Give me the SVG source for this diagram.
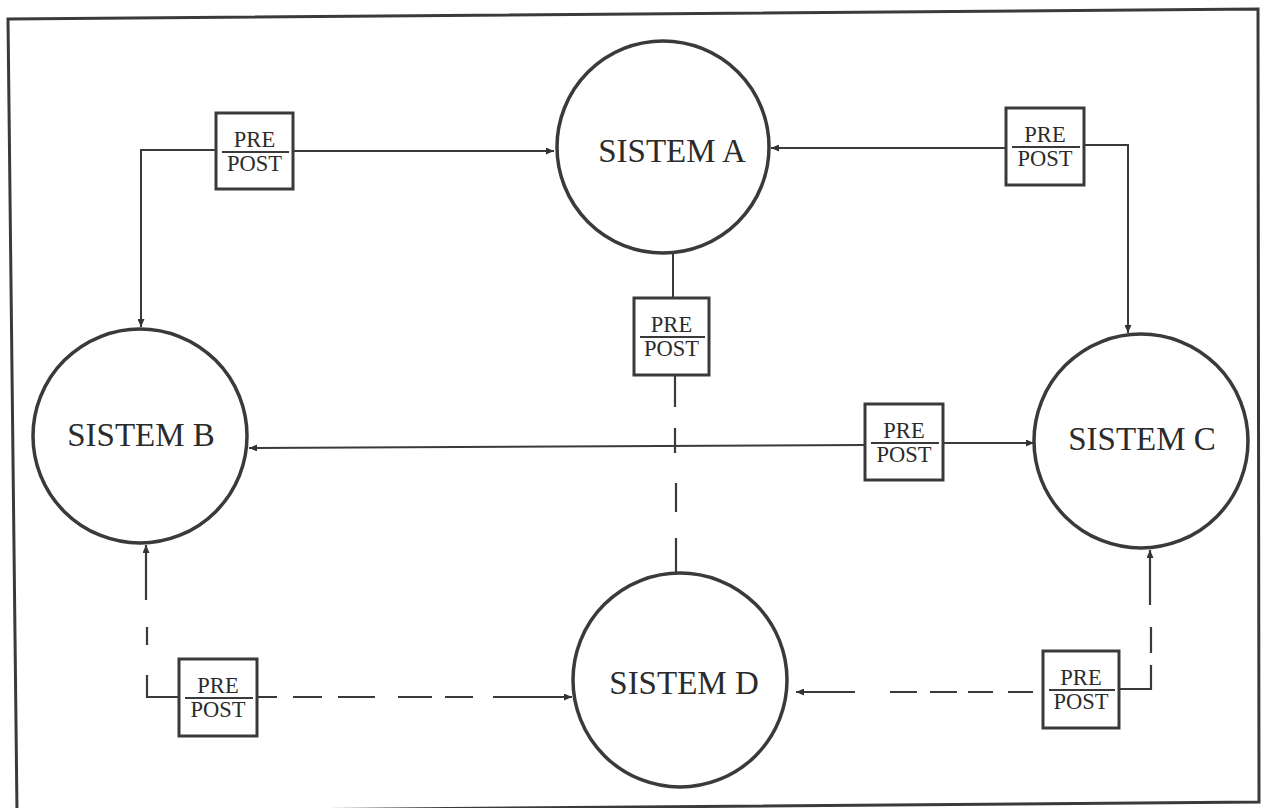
<svg xmlns="http://www.w3.org/2000/svg" width="1266" height="808" viewBox="0 0 1266 808">
  <defs>
    <marker id="arr" markerUnits="userSpaceOnUse" markerWidth="9" markerHeight="7" refX="8" refY="3.5" orient="auto">
      <path d="M0,0 L8,3.5 L0,7 z" fill="#333"/>
    </marker>
    <style>
      .frame { fill: none; stroke: #3a3a3a; stroke-width: 3; }
      .sys { fill: #fff; stroke: #3a3a3a; stroke-width: 3.5; }
      .sys-t { font-family: "Liberation Serif", "Times New Roman", serif; font-size: 33px; fill: #2b2b2b; text-anchor: middle; }
      .box { fill: #fff; stroke: #3a3a3a; stroke-width: 3; }
      .box-t { font-family: "Liberation Serif", "Times New Roman", serif; font-size: 22.5px; fill: #2b2b2b; text-anchor: middle; }
      .div { stroke: #3a3a3a; stroke-width: 2; }
      .con { fill: none; stroke: #3a3a3a; stroke-width: 2; }
      .dash { fill: none; stroke: #3a3a3a; stroke-width: 2.2; }
    </style>
  </defs>
  <rect width="1266" height="808" fill="#fff"/>
  <polygon class="frame" points="8,19 1258,9 1259,802 17,812"/>

  <g id="connectors">
    <path class="con" d="M216,150 L141,150 L141,327" marker-end="url(#arr)"/>
    <path class="con" d="M293,151 L554,151" marker-end="url(#arr)"/>
    <path class="con" d="M1006,148 L771,148" marker-end="url(#arr)"/>
    <path class="con" d="M1084,145 L1128,145 L1128,333" marker-end="url(#arr)"/>
    <path class="con" d="M673,253 L673,298"/>
    <path class="dash" d="M675,375 L675,407 M675,428 L675,453 M676,483 L676,512 M676,538 L676,573"/>
    <path class="con" d="M865,445 L249,448" marker-end="url(#arr)"/>
    <path class="con" d="M943,443 L1034,443" marker-end="url(#arr)"/>
    <path class="dash" d="M179,697 L147,697 L147,675 M147,645 L147,627 M146,600 L146,545" marker-end="url(#arr)"/>
    <path class="dash" d="M257,697 L277,697 M293,697 L322,697 M338,697 L375,697 M398,697 L432,697 M445,697 L473,697 M493,697 L572,697" marker-end="url(#arr)"/>
    <path class="dash" d="M1119,689 L1151,689 L1151,665 M1151,653 L1151,627 M1150,605 L1150,550" marker-end="url(#arr)"/>
    <path class="dash" d="M1033,692 L1008,692 M993,692 L968,692 M957,692 L930,692 M917,692 L890,692 M855,692 L796,692" marker-end="url(#arr)"/>
  </g>

  <g id="sistem-a">
    <circle class="sys" cx="663" cy="147" r="106"/>
    <text class="sys-t" x="672" y="162">SISTEM A</text>
  </g>
  <g id="sistem-b">
    <circle class="sys" cx="140" cy="436" r="107"/>
    <text class="sys-t" x="141" y="446">SISTEM B</text>
  </g>
  <g id="sistem-c">
    <circle class="sys" cx="1141" cy="441" r="107"/>
    <text class="sys-t" x="1142" y="450">SISTEM C</text>
  </g>
  <g id="sistem-d">
    <circle class="sys" cx="680" cy="680" r="107"/>
    <text class="sys-t" x="684" y="694">SISTEM D</text>
  </g>

  <g id="box-ba">
    <rect class="box" x="216" y="113" width="77" height="76"/>
    <text class="box-t" x="254.5" y="147">PRE</text>
    <line class="div" x1="222" y1="152" x2="289" y2="152"/>
    <text class="box-t" x="254.5" y="171">POST</text>
  </g>
  <g id="box-ac">
    <rect class="box" x="1006" y="108" width="78" height="77"/>
    <text class="box-t" x="1045" y="142">PRE</text>
    <line class="div" x1="1012" y1="147" x2="1080" y2="147"/>
    <text class="box-t" x="1045" y="166">POST</text>
  </g>
  <g id="box-ad">
    <rect class="box" x="634" y="298" width="75" height="77"/>
    <text class="box-t" x="671.5" y="332">PRE</text>
    <line class="div" x1="640" y1="337" x2="705" y2="337"/>
    <text class="box-t" x="671.5" y="356">POST</text>
  </g>
  <g id="box-bc">
    <rect class="box" x="865" y="404" width="78" height="76"/>
    <text class="box-t" x="904" y="438">PRE</text>
    <line class="div" x1="871" y1="443" x2="939" y2="443"/>
    <text class="box-t" x="904" y="462">POST</text>
  </g>
  <g id="box-bd">
    <rect class="box" x="179" y="659" width="78" height="77"/>
    <text class="box-t" x="218" y="693">PRE</text>
    <line class="div" x1="185" y1="698" x2="253" y2="698"/>
    <text class="box-t" x="218" y="717">POST</text>
  </g>
  <g id="box-cd">
    <rect class="box" x="1043" y="651" width="76" height="77"/>
    <text class="box-t" x="1081" y="685">PRE</text>
    <line class="div" x1="1049" y1="690" x2="1115" y2="690"/>
    <text class="box-t" x="1081" y="709">POST</text>
  </g>
</svg>
